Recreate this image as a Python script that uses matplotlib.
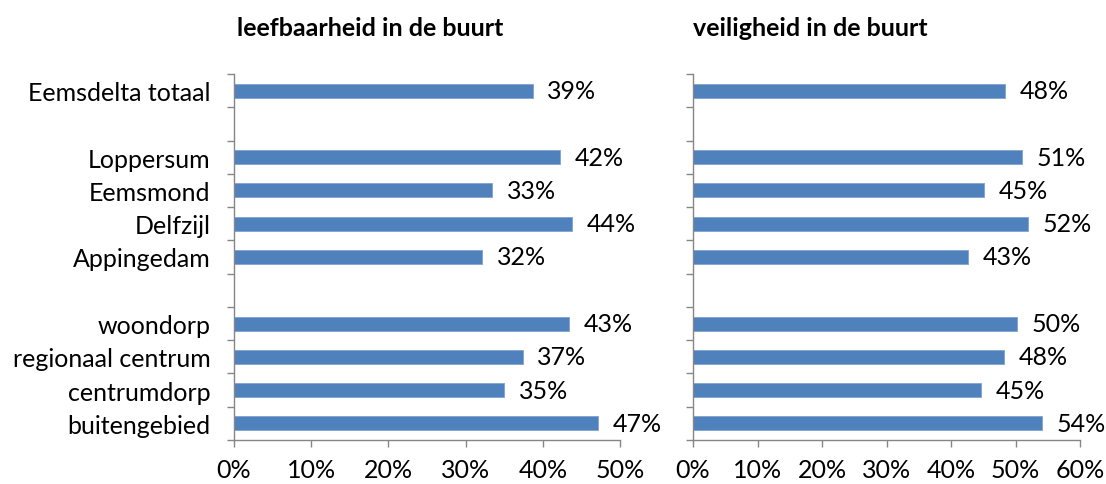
#!/usr/bin/env python3
"""Two-panel horizontal bar chart: leefbaarheid / veiligheid in de buurt."""
import numpy as np
import matplotlib.pyplot as plt

plt.rcParams['font.family'] = ['Lato', 'DejaVu Sans']

# rows from top to bottom, '' is an empty spacer row
categories = ["Eemsdelta totaal", "", "Loppersum", "Eemsmond", "Delfzijl",
              "Appingedam", "", "woondorp", "regionaal centrum",
              "centrumdorp", "buitengebied"]
leefbaarheid = [38.7, None, 42.2, 33.4, 43.8, 32.1, None, 43.4, 37.4, 35.0, 47.2]
veiligheid = [48.4, None, 51.0, 45.1, 51.9, 42.6, None, 50.2, 48.2, 44.7, 54.1]

titles = ["leefbaarheid in de buurt", "veiligheid in de buurt"]
xmax = [50, 60]

BAR = "#4F81BD"
GRID = "#868686"
FS = 18

fig = plt.figure(figsize=(11.06, 4.85), dpi=100)
ax1 = fig.add_axes([0.2116, 0.0907, 0.349, 0.7547])
ax2 = fig.add_axes([0.6266, 0.0907, 0.350, 0.7547])

n = len(categories)
y = np.arange(n)

for i, (ax, vals) in enumerate(zip([ax1, ax2], [leefbaarheid, veiligheid])):
    # Set Plot
    for yy, v in zip(y, vals):
        if v is None:
            continue
        ax.barh(yy, v, height=0.42, color=BAR, edgecolor="#7FA3D0", linewidth=0.6)
        ax.text(v + 1.9 * xmax[i] / 50, yy, f"{round(v)}%", va="center",
                ha="left", fontsize=FS)

    ax.set_ylim(n - 0.5, -0.5)
    ax.set_xlim(0, xmax[i])

    # Set axis ticks
    ax.set_yticks(y)
    ax.set_yticks(np.arange(-0.5, n, 1), minor=True)
    if i == 0:
        ax.set_yticklabels(categories, fontsize=FS)
    else:
        ax.set_yticklabels([])
    ax.tick_params(axis="y", which="major", length=0, pad=17)
    ax.tick_params(axis="y", which="minor", length=5, color=GRID, width=1)

    ticks = np.arange(0, xmax[i] + 1, 10)
    ax.set_xticks(ticks)
    ax.set_xticklabels([f"{t}%" for t in ticks], fontsize=FS)
    ax.tick_params(axis="x", length=5, color=GRID, width=1, pad=8)

    for side in ["top", "right"]:
        ax.spines[side].set_visible(False)
    for side in ["left", "bottom"]:
        ax.spines[side].set_color(GRID)
        ax.spines[side].set_linewidth(1)

# Set titles
fig.text(0.2143, 0.942, titles[0], fontsize=FS, fontweight="bold", va="center")
fig.text(0.6266, 0.942, titles[1], fontsize=FS, fontweight="bold", va="center")

fig.savefig("out.png", dpi=100)
